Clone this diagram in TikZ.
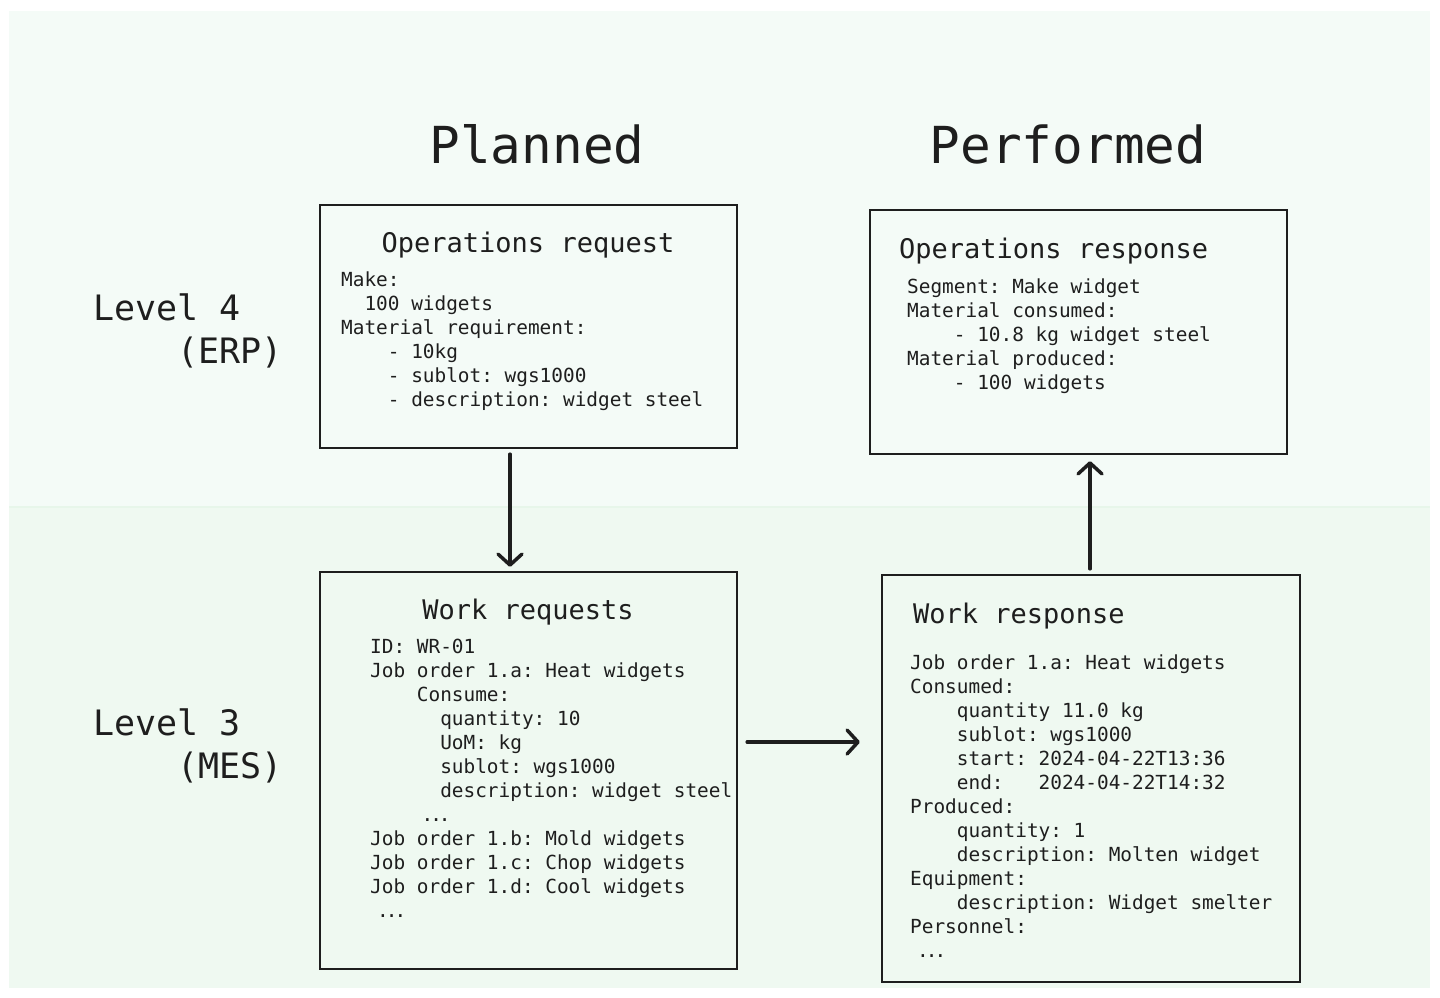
\documentclass[tikz,border=0pt]{standalone}
\usepackage{fontspec}
\setmonofont{DejaVu Sans Mono}
\usetikzlibrary{arrows.meta}
\definecolor{ink}{HTML}{1E1E1E}
\definecolor{bgtop}{RGB}{244,251,247}
\definecolor{bgbot}{RGB}{239,249,241}
\definecolor{bgline}{RGB}{231,246,234}
\newcommand\ind[1]{\hspace*{#1\fontcharwd\font`0}}
\newcommand\mydots{.\kern-3pt.\kern-3pt.}
\begin{document}
\begin{tikzpicture}[x=1pt,y=-1pt,
  box/.style={draw=ink,line width=2.4pt,inner sep=0pt},
  ttl/.style={font=\fontsize{27}{32}\selectfont\ttfamily,text=ink,inner sep=0pt},
  body/.style={font=\fontsize{19.4}{24}\selectfont\ttfamily,text=ink,inner sep=0pt,align=left,anchor=north west},
  head/.style={font=\fontsize{51}{60}\selectfont\ttfamily,text=ink,inner sep=0pt,anchor=base},
  lvl/.style={font=\fontsize{35}{43}\selectfont\ttfamily,text=ink,inner sep=0pt,align=left,anchor=north west},
  arr/.style={draw=ink,line width=3.5pt,line cap=round,-{Straight Barb[length=11pt,width=24pt,round]}}]
\useasboundingbox (0,0) rectangle (1440,997);
\fill[bgtop] (9,11) rectangle (1430,507);
\fill[bgbot] (9,507) rectangle (1430,988);
\draw[bgline,line width=2pt] (9,507) -- (1430,507);

% column headings
\node[head] (planned) at (537,163) {Planned};
\node[head] (performed) at (1068,163) {Performed};

% level labels
\node[lvl] (lvl4) at (93,289.9) {\strut Level 4\\\ind{4}(ERP)};
\node[lvl] (lvl3) at (93,704.9) {\strut Level 3\\\ind{4}(MES)};

% boxes
\node[box,minimum width=417pt,minimum height=243pt] (opreq) at (528.5,326.5) {};
\node[box,minimum width=417pt,minimum height=244pt] (opres) at (1078.5,332) {};
\node[box,fill=bgbot,minimum width=417pt,minimum height=397pt] (wreq) at (528.5,770.5) {};
\node[box,fill=bgbot,minimum width=418pt,minimum height=407pt] (wres) at (1091,778.5) {};

% operations request
\node[ttl,anchor=base] (opreqt) at (528,252) {Operations request};
\node[body] (opreqb) at (341,269.2) {\strut Make:\\
\ind{2}100 widgets\\
Material requirement:\\
\ind{4}- 10kg\\
\ind{4}- sublot: wgs1000\\
\ind{4}- description: widget steel};

% operations response
\node[ttl,anchor=base west] (oprest) at (899,258) {Operations response};
\node[body] (opresb) at (907,276.2) {\strut Segment: Make widget\\
Material consumed:\\
\ind{4}- 10.8 kg widget steel\\
Material produced:\\
\ind{4}- 100 widgets};

% work requests
\node[ttl,anchor=base] (wreqt) at (528,619) {Work requests};
\node[body] (wreqb) at (370,636.2) {\strut ID: WR-01\\
Job order 1.a: Heat widgets\\
\ind{4}Consume:\\
\ind{6}quantity: 10\\
\ind{6}UoM: kg\\
\ind{6}sublot: wgs1000\\
\ind{6}description: widget steel\\
\ind{4.4}\mydots\\
Job order 1.b: Mold widgets\\
Job order 1.c: Chop widgets\\
Job order 1.d: Cool widgets\\
\ind{0.6}\mydots};

% work response
\node[ttl,anchor=base west] (wrest) at (913,623) {Work response};
\node[body] (wresb) at (910,652.2) {\strut Job order 1.a: Heat widgets\\
Consumed:\\
\ind{4}quantity 11.0 kg\\
\ind{4}sublot: wgs1000\\
\ind{4}start: 2024-04-22T13:36\\
\ind{4}end:\ind{3}2024-04-22T14:32\\
Produced:\\
\ind{4}quantity: 1\\
\ind{4}description: Molten widget\\
Equipment:\\
\ind{4}description: Widget smelter\\
Personnel:\\
\ind{0.6}\mydots};

% connectors
\draw[arr] ([xshift=-18.5pt,yshift=-5pt]opreq.south) -- ([xshift=-18.5pt,yshift=4pt]wreq.north);
\draw[arr] ([xshift=-1pt,yshift=5pt]wres.north) -- ([xshift=11.5pt,yshift=-6pt]opres.south);
\draw[arr] ([xshift=9pt,yshift=28.5pt]wreq.east) -- ([xshift=-21pt,yshift=36.5pt]wres.west);
\end{tikzpicture}
\end{document}
